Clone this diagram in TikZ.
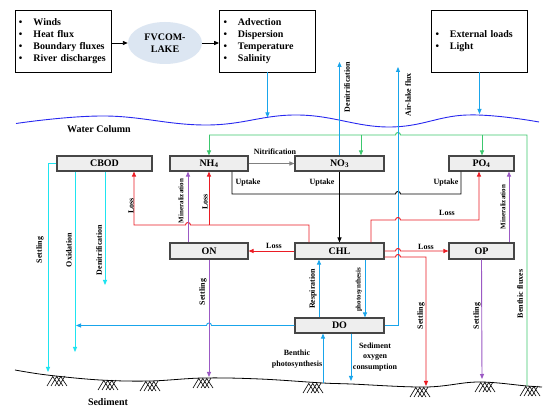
\documentclass[tikz,border=0pt]{standalone}
\usepackage{fontspec}
\setmainfont{Liberation Serif}
\usetikzlibrary{arrows.meta,shapes.geometric}
\definecolor{rd}{RGB}{235,28,36}
\definecolor{prp}{RGB}{155,89,196}
\definecolor{cyn}{RGB}{30,228,240}
\definecolor{blu}{RGB}{25,165,235}
\definecolor{grn}{RGB}{60,200,110}
\definecolor{wave}{RGB}{40,40,240}
\definecolor{boxfill}{RGB}{238,238,238}
\definecolor{boxdraw}{RGB}{70,70,70}
\definecolor{ellfill}{RGB}{220,230,242}
\begin{document}
\begin{tikzpicture}[x=1pt,y=-1pt,
  every node/.style={font=\bfseries},
  arr/.style={-{Triangle[length=5pt,width=4pt]}},
  conn/.style={line width=0.9pt},
  sbox/.style={draw=boxdraw, fill=boxfill, line width=1.1pt, minimum height=15pt, inner sep=0pt, font=\fontsize{10}{12}\selectfont\bfseries},
  tbox/.style={draw=black, line width=0.7pt, fill=white, minimum width=96pt, minimum height=62pt, text width=88pt, align=left, inner xsep=4pt, inner ysep=0pt, font=\fontsize{10}{12}\selectfont\bfseries},
  lbl/.style={font=\fontsize{8}{10.5}\selectfont\bfseries, inner sep=0pt},
  slbl/.style={font=\fontsize{7}{9}\selectfont\bfseries, inner sep=0pt},
  vlbl/.style={lbl, rotate=90},
  svlbl/.style={slbl, rotate=90},
  bigl/.style={font=\fontsize{10}{12}\selectfont\bfseries, inner sep=0pt},
  hatch/.pic={\draw[line width=0.6pt] (-10,10)--(-4,0) (-6,10)--(0,0) (-2,10)--(4,0) (2,10)--(8,0)
      (10,10)--(4,1) (6,10)--(0,1) (2,10)--(-4,1);}
]
\fill[white] (0,0) rectangle (550,417);
\useasboundingbox (0,0) rectangle (550,417);

% top row
\node[tbox] (top1) at (63,41) {\makebox[14.5pt][l]{\textbullet}Winds\\\makebox[14.5pt][l]{\textbullet}Heat~flux\\\makebox[14.5pt][l]{\textbullet}Boundary~fluxes\\\makebox[14.5pt][l]{\textbullet}River~discharges};
\node[ellipse, fill=ellfill, minimum width=74pt, minimum height=42pt, inner sep=0pt, align=center, font=\fontsize{10}{12}\selectfont\bfseries] (fv) at (165,43) {FVCOM-\\LAKE};
\node[tbox] (top2) at (267.5,41) {\makebox[14.5pt][l]{\textbullet}Advection\\\makebox[14.5pt][l]{\textbullet}Dispersion\\\makebox[14.5pt][l]{\textbullet}Temperature\\\makebox[14.5pt][l]{\textbullet}Salinity};
\node[tbox] (top3) at (479.5,41) {\makebox[14.5pt][l]{\textbullet}External~loads\\\makebox[14.5pt][l]{\textbullet}Light};

% compartments
\node[sbox, minimum width=95pt] (cbod) at (104.5,163.5) {CBOD};
\node[sbox, minimum width=78pt] (nh4) at (209,163.5) {NH\textsubscript{4}};
\node[sbox, minimum width=89pt] (no3) at (339.5,163.5) {NO\textsubscript{3}};
\node[sbox, minimum width=65pt] (po4) at (481.5,163.5) {PO\textsubscript{4}};
\node[sbox, minimum width=78pt, minimum height=16pt] (on) at (209,251) {ON};
\node[sbox, minimum width=89pt, minimum height=16pt] (chl) at (339.5,251) {CHL};
\node[sbox, minimum width=65pt, minimum height=16pt] (op) at (481.5,251) {OP};
\node[sbox, minimum width=89pt] (do) at (339.5,325.5) {DO};

% free ends
\coordinate (sCS) at (48,372);
\coordinate (sOx) at (75,352);
\coordinate (sDn) at (105,285);
\coordinate (sON) at (209,377);
\coordinate (sBP) at (323,383);
\coordinate (sSOC) at (351,381);
\coordinate (sRed) at (426,386);
\coordinate (sOP) at (482,379);
\coordinate (sG) at (527,386);
\coordinate (wv2) at (267.5,117.5);
\coordinate (wv3) at (479.5,114);
\coordinate (airT) at (398,67);
\coordinate (denT) at (339.5,62);
\coordinate (doL) at (76,325.5);

% water surface and sediment
\draw[wave, line width=0.9pt] plot[smooth, tension=0.7] coordinates {(16,123.5) (105,116) (207,125) (298,115) (389,127) (467,115) (539,122)};
\draw[line width=0.8pt] plot[smooth, tension=0.6] coordinates {(15,370) (47,375) (100,380) (150,381) (203,378) (260,379) (323,383) (351,384) (426,387) (478,382) (527,386) (542,387)};
\foreach \p in {(57,376),(108,380),(150,381),(203,378),(313,383),(420,387),(485,382),(530,386)}
  \pic at \p {hatch};

% top arrows
\draw[conn, arr] (top1.east |- fv.west) -- (fv.west);
\draw[conn, arr] (fv.east) -- (fv.east -| top2.west);
\draw[conn, blu, arr] (top2.south) -- (wv2);
\draw[conn, blu, arr] (top3.south) -- (wv3);

% green benthic fluxes
\draw[conn, grn] (sG) -- (527,135) -- (400.5,135) .. controls (400.5,131.7) and (395.5,131.7) .. (395.5,135) -- (209,135);
\draw[conn, grn, arr] (209,135) -- (nh4.north);
\draw[conn, grn, arr] (361,135) -- (no3.north -| 361,0);
\draw[conn, grn, arr] (482,135) -- (po4.north -| 482,0);

% black / gray
\draw[conn, gray, arr] (nh4.east) -- (no3.west);
\draw[conn, arr] (no3.south) -- (chl.north);
\draw[conn] (nh4.south -| 232,0) -- (232,194) -- (395.5,194) .. controls (395.5,190.7) and (400.5,190.7) .. (400.5,194) -- (461,194) -- (po4.south -| 461,0);

% blue
\draw[conn, blu, arr] (do.west) -- (211.5,325.5) .. controls (211.5,322.2) and (206.5,322.2) .. (206.5,325.5) -- (doL);
\draw[conn, blu, arr] (do.east) -- (398,325.5) -- (airT);
\draw[conn, blu, arr] (no3.north) -- (denT);
\draw[conn, blu, arr] (do.north -| 319,0) -- (chl.south -| 319,0);
\draw[conn, blu, arr] (chl.south -| 365,0) -- (do.north -| 365,0);
\draw[conn, blu, arr] (sBP) -- (do.south -| 323,0);
\draw[conn, blu, arr] (do.south -| 351,0) -- (sSOC);

% cyan
\draw[conn, cyn, arr] (cbod.west) -- (48,163.5) -- (sCS);
\draw[conn, cyn, arr] (cbod.south -| 75,0) -- (sOx);
\draw[conn, cyn, arr] (cbod.south -| 105,0) -- (sDn);

% red
\draw[conn, rd, arr] (chl.west) -- (on.east);
\draw[conn, rd, arr] (chl.north -| 309,0) -- (309,225) -- (190.5,225) .. controls (190.5,221.7) and (185.5,221.7) .. (185.5,225) -- (134,225) -- (cbod.south -| 134,0);
\draw[conn, rd, arr] (209,225) -- (nh4.south);
\draw[conn, rd, arr] (chl.north -| 371,0) -- (371,220) -- (395.5,220) .. controls (395.5,216.7) and (400.5,216.7) .. (400.5,220) -- (479,220) -- (po4.south -| 479,0);
\draw[conn, rd, arr] (chl.east) -- (395.5,251) .. controls (395.5,247.7) and (400.5,247.7) .. (400.5,251) -- (op.west);
\draw[conn, rd, arr] (chl.east |- 0,257) -- (395.5,257) .. controls (395.5,253.7) and (400.5,253.7) .. (400.5,257) -- (426,257) -- (sRed);

% purple
\draw[conn, prp, arr] (on.north -| 188,0) -- (nh4.south -| 188,0);
\draw[conn, prp, arr] (on.south) -- (sON);
\draw[conn, prp, arr] (op.north -| 509,0) -- (po4.south -| 509,0);
\draw[conn, prp, arr] (op.south) -- (sOP);

% labels
\node[bigl] (lwc) at (99,129) {Water Column};
\node[bigl] (lsed) at (108,402) {Sediment};
\node[lbl] (lnit) at (275,152) {Nitrification};
\node[lbl] (lup1) at (248,183) {Uptake};
\node[lbl] (lup2) at (322,183) {Uptake};
\node[lbl] (lup3) at (446,183) {Uptake};
\node[lbl] (lloss1) at (274,246) {Loss};
\node[lbl] (lloss2) at (426,247) {Loss};
\node[lbl] (lloss3) at (447,213) {Loss};
\node[vlbl] (lset1) at (40,250) {Settling};
\node[vlbl] (loxi) at (69,250) {Oxidation};
\node[vlbl] (lden1) at (99,250) {Denitrification};
\node[vlbl] (lloss4) at (131,206) {Loss};
\node[svlbl] (lmin1) at (181,201) {Mineralization};
\node[vlbl] (lloss5) at (205,202) {Loss};
\node[vlbl] (lset2) at (203,292) {Settling};
\node[vlbl] (lresp) at (313,289) {Respiration};
\node[svlbl] (lphot) at (359,290) {photosynthesis};
\node[vlbl] (lden2) at (347,87) {Denitrification};
\node[vlbl] (lair) at (408,95) {Air-lake flux};
\node[svlbl] (lmin2) at (503,207) {Mineralization};
\node[vlbl] (lbf) at (520,294) {Benthic fluxes};
\node[vlbl] (lset3) at (421,316) {Settling};
\node[vlbl] (lset4) at (477,316) {Settling};
\node[lbl, align=center] (lbp) at (297,359) {Benthic\\photosynthesis};
\node[lbl, align=center] (lsoc) at (375,357) {Sediment\\oxygen\\consumption};
\end{tikzpicture}
\end{document}
